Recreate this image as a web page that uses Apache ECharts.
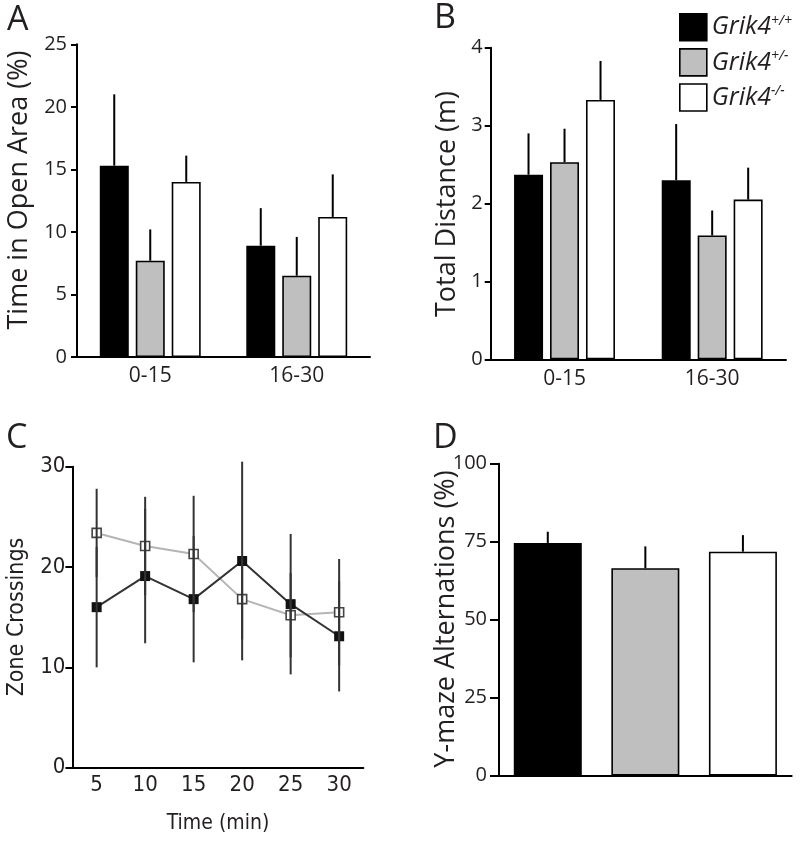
<!DOCTYPE html>
<html>
<head>
<meta charset="utf-8">
<script src="https://cdn.jsdelivr.net/npm/echarts@6/dist/echarts.min.js"></script>
<style>
html,body{margin:0;padding:0;background:#fff;}
#chart{width:800px;height:842px;}
</style>
</head>
<body>
<div id="chart"></div>
<script>
// ---------- data ----------
const genotypes = ['Grik4+/+', 'Grik4+/-', 'Grik4-/-'];
const superscripts = ['+/+', '+/-', '-/-'];
const periodCats = ['0-15', '16-30'];

// Panel A: Time in Open Area (%)
const openWT = [15.3, 8.9];
const openHET = [7.7, 6.5];
const openKO = [14.0, 11.2];
const openWTsem = [5.7, 3.0];
const openHETsem = [2.5, 3.1];
const openKOsem = [2.1, 3.4];

// Panel B: Total Distance (m)
const distWT = [2.37, 2.30];
const distHET = [2.53, 1.59];
const distKO = [3.33, 2.05];
const distWTsem = [0.53, 0.72];
const distHETsem = [0.43, 0.32];
const distKOsem = [0.50, 0.41];

// Panel C: Zone Crossings over time
const timeCats = ['5', '10', '15', '20', '25', '30'];
const zoneWT = [16.0, 19.1, 16.8, 20.6, 16.3, 13.1];
const zoneWTsem = [6.0, 6.7, 6.3, 9.9, 7.0, 5.5];
const zoneKO = [23.4, 22.1, 21.3, 16.8, 15.2, 15.5];
const zoneKOsem = [4.4, 4.9, 5.8, 4.0, 4.2, 5.3];

// Panel D: Y-maze Alternations (%)
const ymaze = [74.6, 66.5, 71.8];
const ymazeSem = [3.6, 7.0, 5.3];

// ---------- style ----------
const INK = '#231f20';
const GRAY = '#bfbfbf';
const fills = ['#000000', GRAY, '#ffffff'];
const SANS = "'Open Sans', 'Noto Sans', sans-serif";
const NARROW = "'Liberation Sans Narrow', 'DejaVu Sans Condensed', sans-serif";

const chart = echarts.init(document.getElementById('chart'), null, {renderer: 'canvas'});

function yAxisDef(gridIndex, min, max, interval, opts) {
  return {
    type: 'value', gridIndex, min, max, interval,
    axisLine: {show: true, lineStyle: {color: '#000', width: 2}},
    axisTick: {show: true, inside: false, length: opts.tick, lineStyle: {color: '#000', width: 2}},
    axisLabel: {color: INK, fontFamily: opts.font, fontSize: opts.size, margin: opts.margin},
    splitLine: {show: false}
  };
}
function xCatDef(gridIndex, data, opts) {
  return {
    type: 'category', gridIndex, data, boundaryGap: true,
    axisLine: {show: true, onZero: false, lineStyle: {color: '#000', width: 2}},
    axisTick: {show: false},
    axisLabel: {show: opts.show, color: INK, fontFamily: opts.font, fontSize: opts.size, margin: opts.margin},
    splitLine: {show: false}
  };
}

function barSeries(name, idx, gi, data) {
  return {
    name, type: 'bar', xAxisIndex: gi, yAxisIndex: gi, data,
    barWidth: 29, barGap: '24%',
    itemStyle: {color: fills[idx], borderColor: '#000', borderWidth: 1.6},
    z: 2
  };
}
function upErrSeries(gi, means, sems, offset) {
  return {
    type: 'custom', xAxisIndex: gi, yAxisIndex: gi, silent: true, z: 3,
    data: means.map((m, i) => [i, m, m + sems[i]]),
    renderItem: (params, api) => {
      const p0 = api.coord([api.value(0), api.value(1)]);
      const p1 = api.coord([api.value(0), api.value(2)]);
      return {type: 'line', shape: {x1: p0[0] + offset, y1: p0[1], x2: p1[0] + offset, y2: p1[1]},
        style: {stroke: '#000', lineWidth: 2}};
    }
  };
}
function symErrSeries(gi, means, sems, color) {
  return {
    type: 'custom', xAxisIndex: gi, yAxisIndex: gi, silent: true, z: 5,
    data: means.map((m, i) => [i, m - sems[i], m + sems[i]]),
    renderItem: (params, api) => {
      const p0 = api.coord([api.value(0), api.value(1)]);
      const p1 = api.coord([api.value(0), api.value(2)]);
      return {type: 'line', shape: {x1: p0[0], y1: p0[1], x2: p1[0], y2: p1[1]},
        style: {stroke: color, lineWidth: 2}};
    }
  };
}

function rotTitle(text, x, y, size, font) {
  return {type: 'text', x, y, rotation: Math.PI / 2,
    style: {text, fill: INK, font: size + 'px ' + font, textAlign: 'center', textVerticalAlign: 'middle'}};
}
function plainText(text, x, y, size, font, align) {
  return {type: 'text', x, y,
    style: {text, fill: INK, font: size + 'px ' + font, textAlign: align || 'left', textVerticalAlign: 'top'}};
}

const option = {
  animation: false,
  backgroundColor: '#fff',
  grid: [
    {left: 77, right: 430, top: 44.3, bottom: 485},
    {left: 490.7, right: 14, top: 47.7, bottom: 482.7},
    {left: 72.4, right: 436.6, top: 466.7, bottom: 74.3},
    {left: 499, right: 8.3, top: 463.7, bottom: 66.3}
  ],
  xAxis: [
    xCatDef(0, periodCats, {show: true, font: SANS, size: 21, margin: 9}),
    xCatDef(1, periodCats, {show: true, font: SANS, size: 21, margin: 9}),
    xCatDef(2, timeCats, {show: true, font: NARROW, size: 22, margin: 7}),
    xCatDef(3, genotypes, {show: false, font: SANS, size: 21, margin: 9})
  ],
  yAxis: [
    yAxisDef(0, 0, 25, 5, {tick: 6, font: SANS, size: 20, margin: 10}),
    yAxisDef(1, 0, 4, 1, {tick: 6, font: SANS, size: 20, margin: 8}),
    yAxisDef(2, 0, 30, 10, {tick: 7, font: NARROW, size: 22, margin: 7}),
    yAxisDef(3, 0, 100, 25, {tick: 9, font: SANS, size: 20, margin: 12})
  ],
  legend: {
    left: 674, top: 8, orient: 'vertical', itemWidth: 27, itemHeight: 27, itemGap: 6.5,
    selectedMode: false,
    data: genotypes.map((g, i) => ({name: g, icon: 'rect',
      itemStyle: {color: fills[i], borderColor: '#000', borderWidth: 1.6}})),
    formatter: (name) => '{a|Grik4}{b|' + superscripts[genotypes.indexOf(name)] + '}',
    textStyle: {
      color: INK,
      rich: {
        a: {fontFamily: SANS, fontStyle: 'italic', fontSize: 25, lineHeight: 27, color: INK},
        b: {fontFamily: SANS, fontStyle: 'italic', fontSize: 14, lineHeight: 27, verticalAlign: 'top', color: INK, padding: [0, 0, 10, 0]}
      }
    }
  },
  graphic: [
    plainText('A', 7, 3, 34, SANS),
    plainText('B', 434, 1, 34, SANS),
    plainText('C', 6, 421, 34, SANS),
    plainText('D', 433, 421, 34, SANS),
    rotTitle('Time in Open Area (%)', 19, 190, 27, SANS),
    rotTitle('Total Distance (m)', 447, 204, 27, SANS),
    rotTitle('Zone Crossings', 17, 617, 23, NARROW),
    {type: 'text', x: 218, y: 824, style: {text: 'Time (min)', fill: INK, font: '21px ' + NARROW, textAlign: 'center', textVerticalAlign: 'middle'}},
    rotTitle('Y-maze Alternations (%)', 446, 619, 27, SANS)
  ],
  series: [
    // Panel A
    barSeries(genotypes[0], 0, 0, openWT),
    barSeries(genotypes[1], 1, 0, openHET),
    barSeries(genotypes[2], 2, 0, openKO),
    upErrSeries(0, openWT, openWTsem, -36),
    upErrSeries(0, openHET, openHETsem, 0),
    upErrSeries(0, openKO, openKOsem, 36),
    // Panel B
    barSeries(genotypes[0], 0, 1, distWT),
    barSeries(genotypes[1], 1, 1, distHET),
    barSeries(genotypes[2], 2, 1, distKO),
    upErrSeries(1, distWT, distWTsem, -36),
    upErrSeries(1, distHET, distHETsem, 0),
    upErrSeries(1, distKO, distKOsem, 36),
    // Panel C
    {
      name: 'zoneKO', type: 'line', xAxisIndex: 2, yAxisIndex: 2, data: zoneKO,
      lineStyle: {color: '#b5b5b5', width: 2}, symbol: 'rect', symbolSize: 9,
      itemStyle: {color: '#fff', borderColor: '#444', borderWidth: 1.6}, z: 3
    },
    {
      name: 'zoneWT', type: 'line', xAxisIndex: 2, yAxisIndex: 2, data: zoneWT,
      lineStyle: {color: '#333', width: 2}, symbol: 'rect', symbolSize: 10,
      itemStyle: {color: '#111', borderColor: '#111', borderWidth: 0}, z: 4
    },
    symErrSeries(2, zoneWT, zoneWTsem, '#333'),
    symErrSeries(2, zoneKO, zoneKOsem, '#333'),
    // Panel D
    {
      type: 'bar', xAxisIndex: 3, yAxisIndex: 3, barWidth: 68,
      data: ymaze.map((v, i) => ({value: v, itemStyle: {color: fills[i], borderColor: '#000', borderWidth: 1.6}})),
      z: 2
    },
    upErrSeries(3, ymaze, ymazeSem, 0)
  ]
};
chart.setOption(option);
</script>
</body>
</html>
